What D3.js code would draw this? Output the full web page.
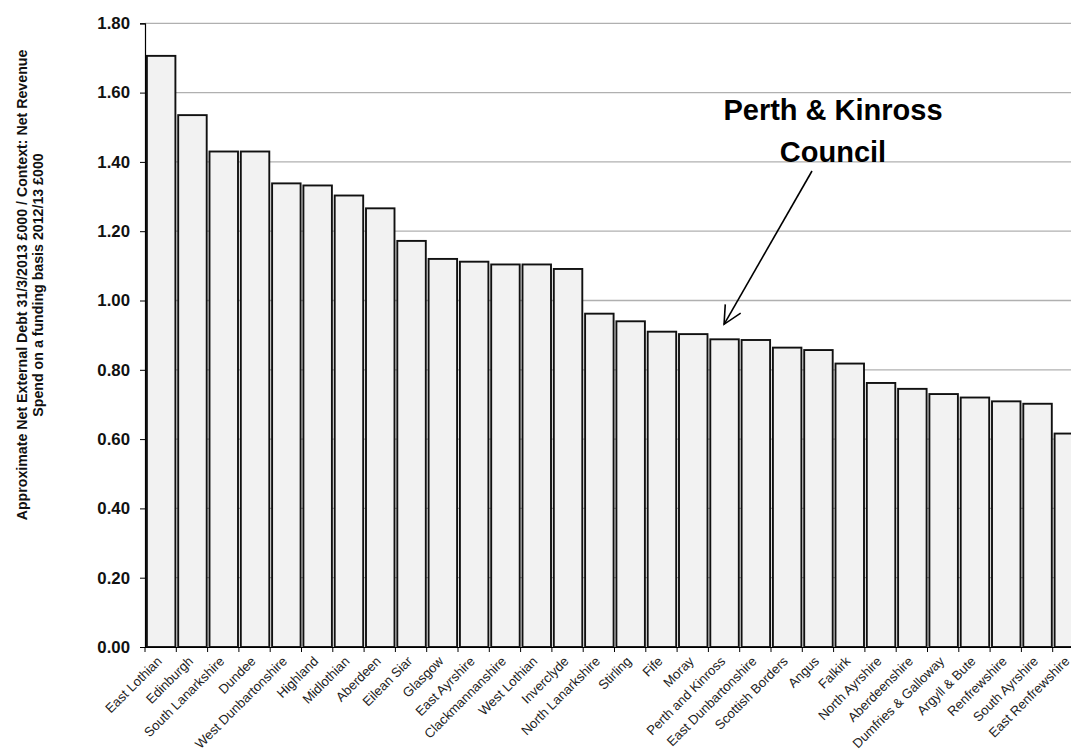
<!DOCTYPE html>
<html>
<head>
<meta charset="utf-8">
<script src="https://cdn.jsdelivr.net/npm/d3@7"></script>
<style>
  html, body { margin: 0; padding: 0; background: #fff; overflow: hidden; }
  svg { display: block; }
  text { font-family: Arial, "Liberation Sans", sans-serif; }
</style>
</head>
<body>
<svg id="chart" width="1071" height="755"></svg>
<script>
const categories = [
  "East Lothian", "Edinburgh", "South Lanarkshire", "Dundee", "West Dunbartonshire",
  "Highland", "Midlothian", "Aberdeen", "Eilean Siar", "Glasgow",
  "East Ayrshire", "Clackmannanshire", "West Lothian", "Inverclyde", "North Lanarkshire",
  "Stirling", "Fife", "Moray", "Perth and Kinross", "East Dunbartonshire",
  "Scottish Borders", "Angus", "Falkirk", "North Ayrshire", "Aberdeenshire",
  "Dumfries & Galloway", "Argyll & Bute", "Renfrewshire", "South Ayrshire", "East Renfrewshire"
];
const values = [
  1.706, 1.535, 1.430, 1.430, 1.338,
  1.332, 1.303, 1.266, 1.172, 1.120,
  1.112, 1.104, 1.104, 1.091, 0.962,
  0.940, 0.910, 0.903, 0.888, 0.886,
  0.864, 0.857, 0.818, 0.762, 0.745,
  0.730, 0.720, 0.709, 0.702, 0.616
];
const yTicks = [0, 0.2, 0.4, 0.6, 0.8, 1.0, 1.2, 1.4, 1.6, 1.8];
const yTitleLines = [
  "Approximate Net External Debt 31/3/2013 £000 / Context: Net Revenue",
  "Spend on a funding basis 2012/13 £000"
];
const annotationLines = ["Perth & Kinross", "Council"];
const annotatedCategory = "Perth and Kinross";

const svg = d3.select("#chart");
const plotLeft = 145, plotTop = 23.3, plotBottom = 647;
const slot = 31.3;
const plotRight = plotLeft + slot * categories.length;

const x = d3.scaleBand().domain(categories).range([plotLeft, plotRight]).padding(0);
const y = d3.scaleLinear().domain([0, 1.8]).range([plotBottom, plotTop]);

// gridlines
svg.append("g").selectAll("line")
  .data(yTicks.filter(d => d > 0))
  .join("line")
  .attr("x1", plotLeft).attr("x2", 1071)
  .attr("y1", d => y(d)).attr("y2", d => y(d))
  .attr("stroke", "#b0b0b0").attr("stroke-width", 1.3);

// bars
svg.append("g").selectAll("rect")
  .data(categories)
  .join("rect")
  .attr("x", d => x(d) + 1.9)
  .attr("width", x.bandwidth() - 2.8)
  .attr("y", (d, i) => y(values[i]))
  .attr("height", (d, i) => plotBottom - y(values[i]))
  .attr("fill", "#f2f2f2")
  .attr("stroke", "#111")
  .attr("stroke-width", 1.9);

// y axis
const yAxis = d3.axisLeft(y).tickValues(yTicks).tickFormat(d3.format(".2f")).tickSize(5).tickPadding(10);
const gy = svg.append("g").attr("transform", `translate(${plotLeft},0)`).call(yAxis);
gy.select(".domain").attr("stroke", "#000").attr("stroke-width", 1.2);
gy.selectAll(".tick line").attr("stroke", "#000");
gy.selectAll(".tick text")
  .attr("font-size", 16.8).attr("font-weight", "bold").attr("fill", "#111")
  .attr("font-family", "Arial, 'Liberation Sans', sans-serif");

// x axis
const xAxis = d3.axisBottom(x).tickSize(0).tickFormat(d => d);
const gx = svg.append("g").attr("transform", `translate(0,${plotBottom})`).call(xAxis);
gx.select(".domain").attr("stroke", "#000").attr("stroke-width", 1.2);
gx.selectAll(".tick text")
  .attr("font-size", 13.2).attr("fill", "#222")
  .attr("font-family", "Arial, 'Liberation Sans', sans-serif")
  .attr("text-anchor", "end")
  .attr("dy", null).attr("y", 0)
  .attr("transform", `translate(2,15) rotate(-45)`);
// boundary tick marks
svg.append("g").selectAll("line")
  .data(categories)
  .join("line")
  .attr("x1", d => x(d)).attr("x2", d => x(d))
  .attr("y1", plotBottom).attr("y2", plotBottom + 5)
  .attr("stroke", "#000").attr("stroke-width", 1);

// y title
const titleG = svg.append("g").attr("transform", "translate(0,285) rotate(-90)");
titleG.selectAll("text")
  .data(yTitleLines)
  .join("text")
  .attr("x", 0)
  .attr("y", (d, i) => 26.5 + i * 16.8)
  .attr("text-anchor", "middle")
  .attr("font-size", 14.2).attr("font-weight", "bold").attr("fill", "#111")
  .text(d => d);

// annotation
svg.append("g").selectAll("text")
  .data(annotationLines)
  .join("text")
  .attr("x", 833)
  .attr("y", (d, i) => 120 + i * 41.5)
  .attr("text-anchor", "middle")
  .attr("font-size", 29).attr("font-weight", "bold").attr("fill", "#000")
  .text(d => d);

// arrow toward annotated bar
const pkIdx = categories.indexOf(annotatedCategory);
const tipX = x(annotatedCategory) + x.bandwidth() / 2;
const tipY = y(values[pkIdx]) - 15;
const startX = 812, startY = 171;
const ang = Math.atan2(tipY - startY, tipX - startX);
const headLen = 20, headAng = 0.46;
const arrow = svg.append("g").attr("stroke", "#000").attr("stroke-width", 1.6).attr("fill", "none");
arrow.append("line").attr("x1", startX).attr("y1", startY).attr("x2", tipX).attr("y2", tipY);
arrow.append("path").attr("d",
  `M${tipX - headLen * Math.cos(ang - headAng)},${tipY - headLen * Math.sin(ang - headAng)}` +
  `L${tipX},${tipY}` +
  `L${tipX - headLen * Math.cos(ang + headAng)},${tipY - headLen * Math.sin(ang + headAng)}`);
</script>
</body>
</html>
